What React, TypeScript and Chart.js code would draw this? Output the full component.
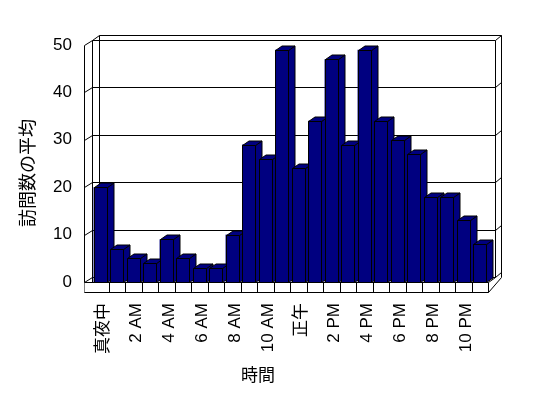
import React, { useEffect, useRef } from 'react';
import { Chart, registerables } from 'chart.js';

Chart.register(...registerables);

const hours = [
  '真夜中', '1 AM', '2 AM', '3 AM', '4 AM', '5 AM', '6 AM', '7 AM', '8 AM', '9 AM', '10 AM', '11 AM',
  '正午', '1 PM', '2 PM', '3 PM', '4 PM', '5 PM', '6 PM', '7 PM', '8 PM', '9 PM', '10 PM', '11 PM',
];
const visits = [20, 7, 5, 4, 9, 5, 3, 3, 10, 29, 26, 49, 24, 34, 47, 29, 49, 34, 30, 27, 18, 18, 13, 8];
const yTicks = [0, 10, 20, 30, 40, 50];
const yTitle = '訪問数の平均';
const xTitle = '時間';

const FONT = '"Liberation Sans", "Noto Sans CJK JP", sans-serif';
const NAVY = '#000080';
const DX = 6.5;
const DY = -4.5;

const p = (v: number) => Math.round(v) + 0.5;

const box3d = {
  id: 'box3d',
  beforeDatasetsDraw(chart: any) {
    const { ctx, chartArea: a, scales } = chart;
    const ys = scales.y;
    const xs = scales.x;
    const L = a.left;
    const R = a.right;
    const fx = L - 8.5;
    const bx0 = L;
    const bx1 = R + 6.7;
    const off = 5;
    const t = 6.6;
    const yTop = ys.getPixelForValue(50);
    const y0 = ys.getPixelForValue(0);
    const floorB = y0 + 10.3;
    const line = (x1: number, y1: number, x2: number, y2: number) => {
      ctx.beginPath();
      ctx.moveTo(p(x1), p(y1));
      ctx.lineTo(p(x2), p(y2));
      ctx.stroke();
    };
    ctx.save();
    ctx.strokeStyle = '#000';
    ctx.lineWidth = 1;
    for (const v of yTicks) {
      const py = ys.getPixelForValue(v);
      line(fx, py, bx0, py - off);
      line(bx0, py - off, bx1, py - off);
      line(bx1, py - off, bx1 + t, py - off - 5);
    }
    // verticals
    line(fx, yTop, fx, floorB);
    line(bx0, yTop - off, bx0, y0);
    line(bx0 + t, yTop - off - 5, bx0 + t, y0 - off);
    line(bx1, yTop - off, bx1, y0 - off);
    line(bx1 + t, yTop - off - 5, bx1 + t, y0 - off);
    // top thickness
    line(bx0, yTop - off, bx0 + t, yTop - off - 5);
    line(bx0 + t, yTop - off - 5, bx1 + t, yTop - off - 5);
    // floor
    ctx.fillStyle = '#fff';
    ctx.fillRect(p(fx), p(y0), Math.round(R) - Math.round(fx), Math.round(floorB) - Math.round(y0));
    line(fx, y0, R, y0);
    line(fx, floorB, R, floorB);
    line(R, y0, R, floorB);
    line(R, floorB, bx1 + t, y0 - off);
    line(R, y0, bx1, y0 - off);
    for (let i = 1; i < hours.length; i++) {
      const bx = (xs.getPixelForValue(i - 1) + xs.getPixelForValue(i)) / 2;
      line(bx, y0, bx, floorB);
    }
    ctx.restore();
  },
  afterDatasetsDraw(chart: any) {
    const { ctx } = chart;
    const meta = chart.getDatasetMeta(0);
    ctx.save();
    ctx.strokeStyle = '#000';
    ctx.fillStyle = NAVY;
    ctx.lineWidth = 1;
    meta.data.forEach((el: any) => {
      const { x, y, base, width } = el.getProps(['x', 'y', 'base', 'width'], true);
      const l = p(x - width / 2);
      const r = p(x + width / 2);
      const top = p(y);
      const b = p(base);
      // side
      ctx.beginPath();
      ctx.moveTo(r, top);
      ctx.lineTo(r + DX, top + DY);
      ctx.lineTo(r + DX, b + DY);
      ctx.lineTo(r, b);
      ctx.closePath();
      ctx.fill();
      ctx.stroke();
      // top
      ctx.beginPath();
      ctx.moveTo(l, top);
      ctx.lineTo(l + DX, top + DY);
      ctx.lineTo(r + DX, top + DY);
      ctx.lineTo(r, top);
      ctx.closePath();
      ctx.fill();
      ctx.stroke();
      // front
      ctx.beginPath();
      ctx.rect(l, top, r - l, b - top);
      ctx.fill();
      ctx.stroke();
    });
    ctx.restore();
  },
  afterDraw(chart: any) {
    const { ctx } = chart;
    ctx.save();
    ctx.fillStyle = '#000';
    ctx.textAlign = 'center';
    ctx.textBaseline = 'middle';
    ctx.font = `18px ${FONT}`;
    ctx.translate(29, 173);
    ctx.rotate(-Math.PI / 2);
    ctx.fillText(yTitle, 0, 0);
    ctx.restore();
    ctx.save();
    ctx.fillStyle = '#000';
    ctx.textAlign = 'center';
    ctx.textBaseline = 'middle';
    ctx.font = `17px ${FONT}`;
    ctx.fillText(xTitle, 258, 376);
    ctx.restore();
  },
};

export default function App() {
  const ref = useRef<HTMLCanvasElement | null>(null);
  useEffect(() => {
    if (!ref.current) return;
    const chart = new Chart(ref.current, {
      type: 'bar',
      data: {
        labels: hours,
        datasets: [
          {
            data: visits,
            backgroundColor: NAVY,
            borderColor: '#000',
            borderWidth: 0,
            categoryPercentage: 1,
            barPercentage: 0.81,
          },
        ],
      },
      options: {
        responsive: false,
        animation: false,
        layout: { padding: { top: 45, right: 60, left: 0, bottom: 0 } },
        plugins: { legend: { display: false }, tooltip: { enabled: false }, title: { display: false } },
        scales: {
          x: {
            offset: true,
            grid: { display: false, drawTicks: false },
            border: { display: false },
            ticks: {
              autoSkip: false,
              maxRotation: 90,
              minRotation: 90,
              padding: 21,
              labelOffset: 3,
              color: '#000',
              font: { family: FONT, size: 17 },
              callback: (_v: any, i: number) => (i % 2 === 0 ? hours[i] : ''),
            },
            afterFit: (s: any) => {
              s.height = 116;
            },
          },
          y: {
            min: 0,
            max: 50,
            grid: { display: false, drawTicks: false },
            border: { display: false },
            ticks: {
              stepSize: 10,
              padding: 20,
              color: '#000',
              font: { family: FONT, size: 17 },
            },
            afterFit: (s: any) => {
              s.width = 92;
            },
          },
        },
      },
      plugins: [box3d],
    });
    return () => chart.destroy();
  }, []);
  return (
    <div style={{ position: 'absolute', left: 0, top: 0, width: 548, height: 398, background: '#fff' }}>
      <canvas ref={ref} width={548} height={398} style={{ display: 'block' }} />
    </div>
  );
}
